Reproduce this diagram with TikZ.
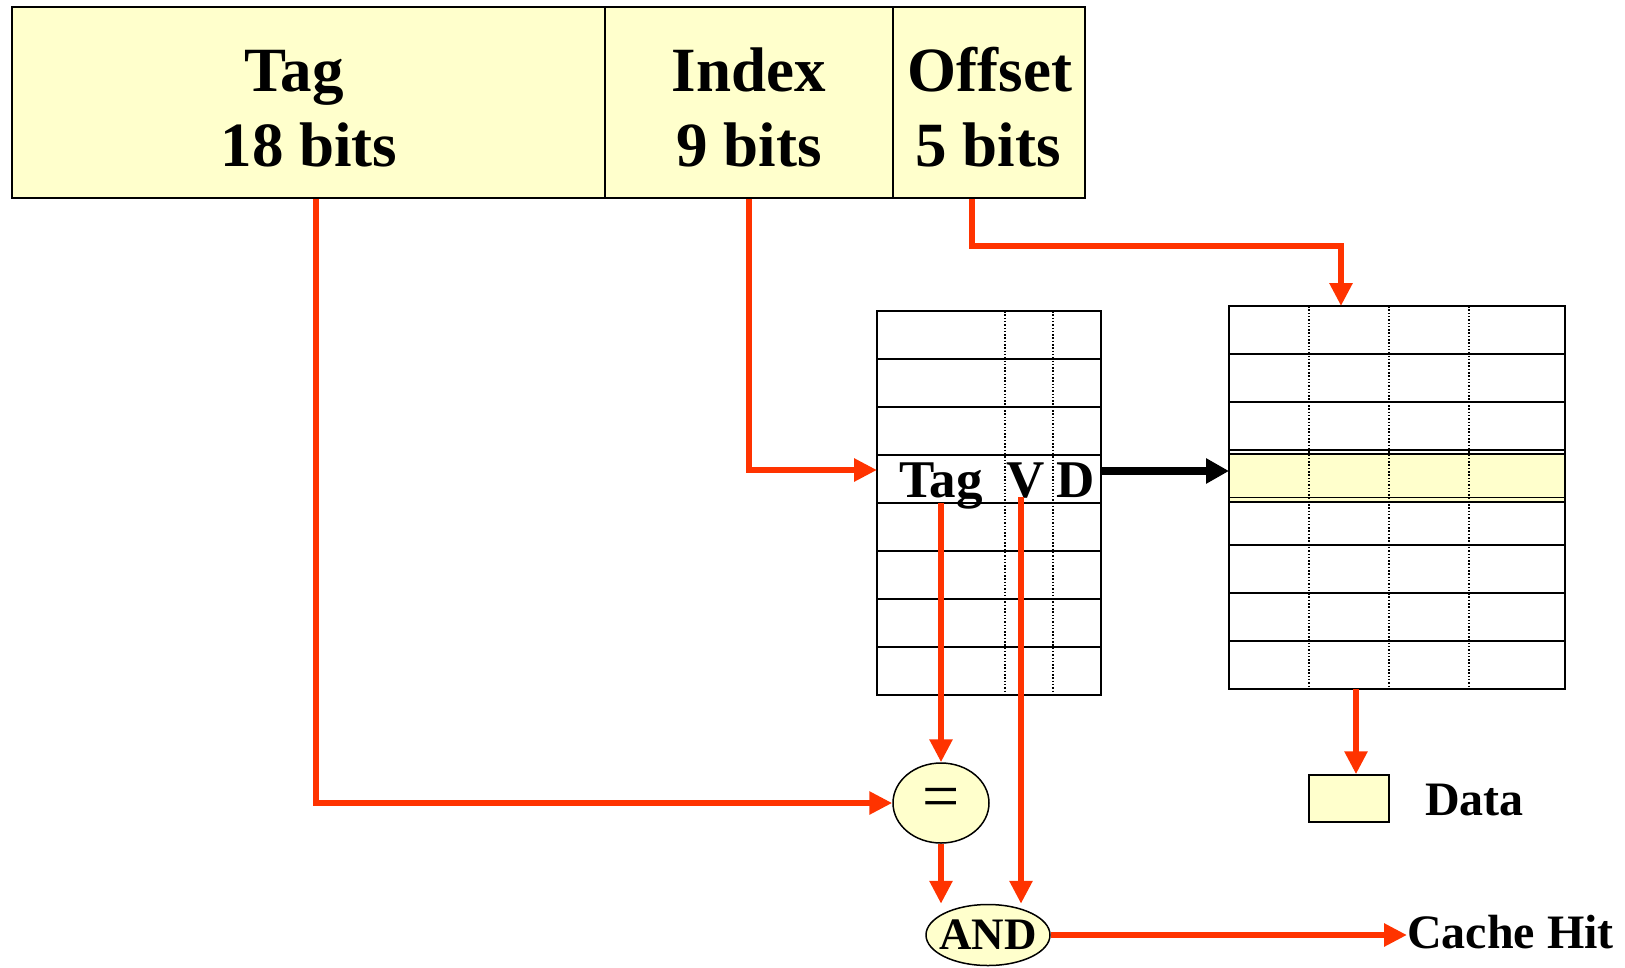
\documentclass[tikz,border=0pt]{standalone}
\usepackage{fontspec}
\setmainfont{Liberation Serif}
\usetikzlibrary{arrows.meta,shapes.geometric}
\definecolor{hl}{RGB}{255,255,204}
\definecolor{rd}{RGB}{255,51,0}
\begin{document}
\begin{tikzpicture}[x=1pt,y=-1pt,
  field/.style={draw,line width=1.8pt,fill=hl,inner sep=0pt,minimum height=191pt},
  big/.style={font=\fontsize{63}{75}\selectfont\bfseries,inner sep=0pt,anchor=base},
  mid/.style={font=\fontsize{53}{53}\selectfont\bfseries,inner sep=0pt,anchor=base},
  lbl/.style={font=\fontsize{48}{48}\selectfont\bfseries,inner sep=0pt,anchor=west},
  tbl/.style={draw,line width=1.8pt,inner sep=0pt},
  grid/.style={line width=1.8pt},
  dots/.style={line width=1.3pt,dash pattern=on 1.5pt off 1.8pt},
  rl/.style={draw=rd,line width=6.5pt,-{Triangle[length=23pt,width=22pt]}},
  bl/.style={draw=black,line width=7.5pt,-{Triangle[length=23pt,width=24pt]}},
  gate/.style={ellipse,draw,line width=1.5pt,fill=hl,inner sep=0pt}]
\useasboundingbox (0,0) rectangle (1625,967);

% address fields
\node[field,minimum width=593pt] (tagf) at (308.5,102.5) {};
\node[field,minimum width=288pt] (idx) at (749,102.5) {};
\node[field,minimum width=192pt] (off) at (989,102.5) {};
\node[big] (t1) at (294,91) {Tag};
\node[big] (t2) at (309,166) {18 bits};
\node[big] (i1) at (749,91) {Index};
\node[big] (i2) at (749,166) {9 bits};
\node[big] (o1) at (990,91) {Offset};
\node[big] (o2) at (988,166) {5 bits};

% tag table
\node[tbl,minimum width=224pt,minimum height=384pt] (tt) at (989,503) {};
\foreach \i in {1,...,7} \draw[grid] (877,311+48*\i) -- (1101,311+48*\i);
\draw[dots] (1005,311) -- (1005,695);
\draw[dots] (1053,311) -- (1053,695);
\node[mid] (tg) at (941,497) {Tag};
\node[mid] (tv) at (1026,497) {V};
\node[mid] (td) at (1076,497) {D};

% data table
\fill[hl] (1229,454) rectangle (1565,502);
\node[tbl,minimum width=336pt,minimum height=383pt] (dt) at (1397,497.5) {};
\foreach \i in {1,...,7} \draw[grid] (1229,306+47.875*\i) -- (1565,306+47.875*\i);
\draw[grid] (1229,454) -- (1565,454);
\draw[grid] (1229,502) -- (1565,502);
\foreach \x in {1309,1389,1469} \draw[dots] (\x,306) -- (\x,689);

% ports
\coordinate (ttin) at (877,470);
\coordinate (ttout) at (1101,471);
\coordinate (dtin) at (1229,471);
\coordinate (dttop) at (1341,306);
\coordinate (dtbot) at (1356,689);
\coordinate (tagsrc) at (941,503);
\coordinate (vsrc) at (1021,497);

% gates and outputs
\node[gate,minimum width=96pt,minimum height=80pt,font=\fontsize{66}{66}\selectfont] (eq) at (941,803) {\makebox[0pt]{=}};
\node[gate,minimum width=124pt,minimum height=61pt,font=\fontsize{45}{45}\selectfont\bfseries] (and) at (988,935) {\makebox[0pt]{AND}};
\node[lbl] (hit) at (1407,932) {Cache Hit};
\node[draw,fill=hl,line width=1.5pt,minimum width=80pt,minimum height=47pt,inner sep=0pt] (databox) at (1349,798.5) {};
\node[lbl] (datal) at (1425,800) {Data};

% connectors
\draw[rl] ([xshift=7.5pt]tagf.south) |- (eq.west);
\draw[rl] (idx.south) |- (ttin);
\draw[rl] ([xshift=-17pt]off.south) -- ++(0,47) -| (dttop);
\draw[bl] (ttout) -- (dtin);
\draw[rl] (tagsrc) -- (eq.north);
\draw[rl] (eq.south) -- (eq.south |- and.north);
\draw[rl] (vsrc) -- (vsrc |- and.north);
\draw[rl] (and.east) -- (and.east -| hit.west);
\draw[rl] (dtbot) -- (dtbot |- databox.north);
\end{tikzpicture}
\end{document}
